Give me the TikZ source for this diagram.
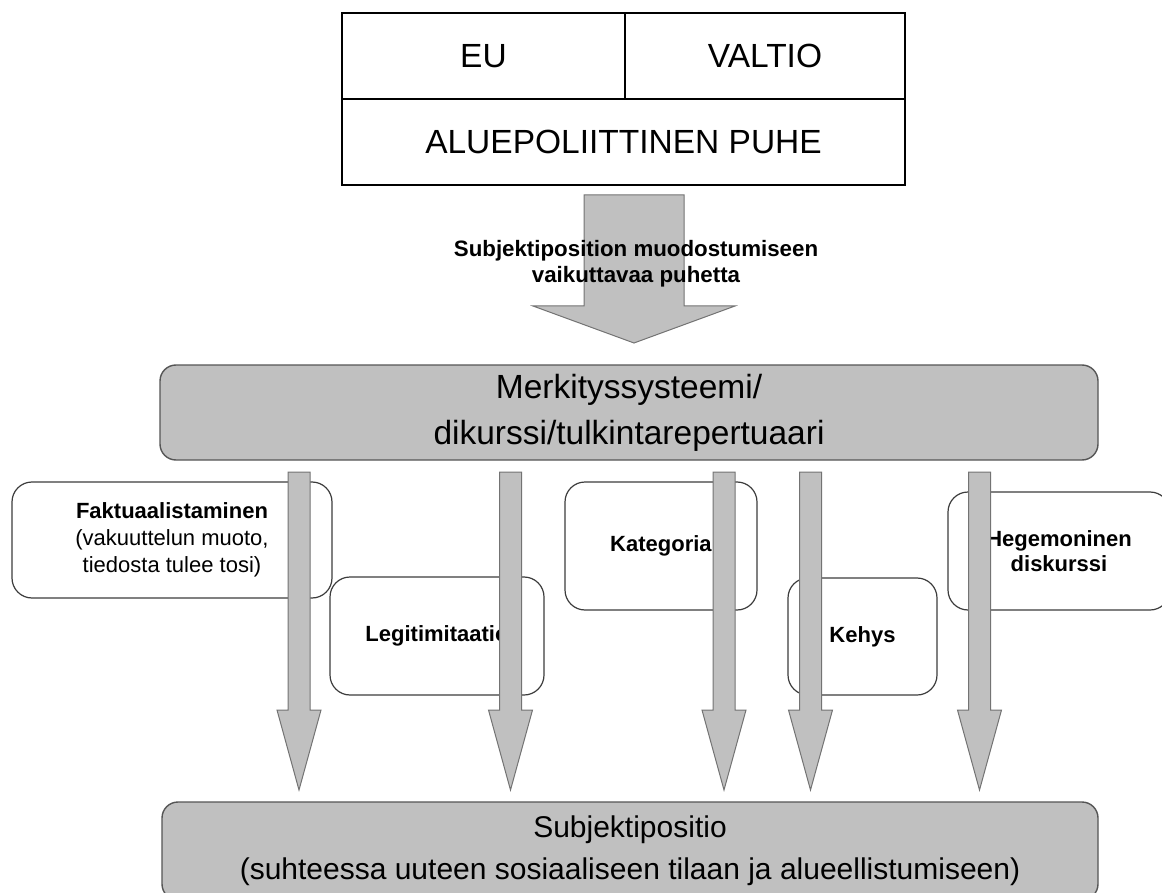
\documentclass[tikz,border=0pt]{standalone}
\usepackage{fontspec}
\setmainfont{Liberation Sans}
\usetikzlibrary{calc}
\definecolor{fillgray}{RGB}{192,192,192}
\definecolor{edgegray}{RGB}{85,85,85}
\definecolor{arrowedge}{RGB}{115,115,115}
\definecolor{boxedge}{RGB}{60,60,60}
\newcommand{\blockarrow}[5]{% #1 top, #2 tip, #3 half shaft, #4 half head, #5 head length
  \draw[blockarrowsty] let \p1=(#1), \p2=(#2) in
    (\x1-#3pt,\y1) -- (\x1+#3pt,\y1) -- (\x1+#3pt,\y2+#5pt) -- (\x1+#4pt,\y2+#5pt)
    -- (\x2,\y2) -- (\x1-#4pt,\y2+#5pt) -- (\x1-#3pt,\y2+#5pt) -- cycle;}
\begin{document}
\begin{tikzpicture}[x=1pt,y=-1pt,
  cell/.style={draw=black, line width=2pt, anchor=north west, inner sep=0pt, outer sep=0pt,
    text height=24pt, text depth=0pt, font=\fontsize{33.5}{38}\selectfont},
  graybox/.style={draw=edgegray, line width=1.4pt, fill=fillgray, rounded corners=16pt,
    anchor=north west, inner sep=0pt, outer sep=0pt, align=center},
  whitebox/.style={draw=boxedge, line width=1.2pt, fill=white, rounded corners=20pt,
    anchor=north west, inner sep=0pt, outer sep=0pt, align=center,
    font=\fontsize{22}{27}\selectfont},
  blockarrowsty/.style={draw=arrowedge, line width=1pt, fill=fillgray},
  lbl/.style={font=\fontsize{22.3}{26}\selectfont\bfseries, align=center, inner sep=0pt}
]
\useasboundingbox (0,0) rectangle (1162,893);
\clip (0,0) rectangle (1162,893);

% top table
\node[cell, minimum width=283pt, minimum height=86pt] (eu) at (342,13) {EU};
\node[cell, minimum width=280pt, minimum height=86pt] (valtio) at (625,13) {VALTIO};
\node[cell, minimum width=563pt, minimum height=86pt] (puhe) at (342,99) {ALUEPOLIITTINEN PUHE};

% main boxes
\node[graybox, minimum width=938pt, minimum height=95pt, font=\fontsize{33.5}{46}\selectfont] (merk) at (160,365)
  {Merkityssysteemi/\\dikurssi/tulkintarepertuaari};
\node[graybox, minimum width=936pt, minimum height=98pt, font=\fontsize{30}{42}\selectfont] (subj) at (162,802)
  {Subjektipositio\\(suhteessa uuteen sosiaaliseen tilaan ja alueellistumiseen)};

% big arrow
\coordinate (bigtop) at (634,195);
\coordinate (bigtip) at (634,343);
\blockarrow{bigtop}{bigtip}{50}{101}{37}
\node[lbl] (biglbl) at (636,264) {Subjektiposition muodostumiseen\\vaikuttavaa puhetta};

% small boxes
\node[whitebox, minimum width=320pt, minimum height=116pt] (fakt) at (12,482)
  {\textbf{Faktuaalistaminen}\\(vakuuttelun muoto,\\tiedosta tulee tosi)};
\node[whitebox, minimum width=214pt, minimum height=118pt] (legit) at (330,577)
  {\textbf{Legitimitaatio}};
\node[whitebox, minimum width=192pt, minimum height=128pt] (kat) at (565,482)
  {\textbf{Kategoria}};
\node[whitebox, minimum width=149pt, minimum height=117pt] (kehys) at (788,578)
  {\textbf{Kehys}};
\node[whitebox, minimum width=222pt, minimum height=118pt, font=\fontsize{22}{25}\selectfont\bfseries] (hege) at (948,492)
  {Hegemoninen\\diskurssi};

% small arrows
\foreach \i/\xx in {1/299, 2/510.5, 3/724, 4/810.5, 5/979.5}{
  \coordinate (t\i) at (\xx,472);
  \coordinate (e\i) at (\xx,790);
  \blockarrow{t\i}{e\i}{11}{22}{80}
}
\end{tikzpicture}
\end{document}
